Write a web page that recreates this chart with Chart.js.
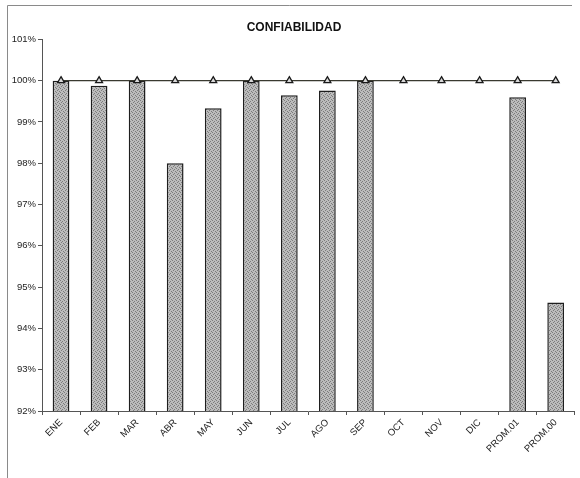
<!DOCTYPE html>
<html>
<head>
<meta charset="utf-8">
<script src="https://cdn.jsdelivr.net/npm/chart.js@4.4.1/dist/chart.umd.min.js"></script>
<style>
  html, body { margin: 0; padding: 0; background: #fff; }
  #wrap { width: 580px; height: 478px; position: relative; }
</style>
</head>
<body>
<div id="wrap"><canvas id="chart_conf"></canvas></div>
<script>
const categories = ['ENE', 'FEB', 'MAR', 'ABR', 'MAY', 'JUN', 'JUL', 'AGO', 'SEP', 'OCT', 'NOV', 'DIC', 'PROM.01', 'PROM.00'];
const confiabilidad = [100, 99.88, 100, 98.0, 99.33, 100, 99.65, 99.76, 100, null, null, null, 99.6, 94.63];
const meta = [100, 100, 100, 100, 100, 100, 100, 100, 100, 100, 100, 100, 100, 100];
const yTicks = [92, 93, 94, 95, 96, 97, 98, 99, 100, 101];

// grey stippled fill like the scanned bars
function hatchPattern() {
    const c = document.createElement('canvas');
    c.width = 4;
    c.height = 4;
    const g = c.getContext('2d');
    g.fillStyle = '#bcbcbc';
    g.fillRect(0, 0, 4, 4);
    g.fillStyle = '#7c7c7c';
    g.fillRect(0, 0, 1, 1);
    g.fillRect(2, 1, 1, 1);
    g.fillRect(1, 2, 1, 1);
    g.fillRect(3, 3, 1, 1);
    return g.createPattern(c, 'repeat');
}

const framePlugin = {
    id: 'frame',
    beforeDraw(chart) {
        const ctx = chart.ctx;
        ctx.save();
        ctx.strokeStyle = '#8a8a8a';
        ctx.lineWidth = 1;
        ctx.beginPath();
        ctx.moveTo(7.5, 478);
        ctx.lineTo(7.5, 5.5);
        ctx.lineTo(572, 5.5);
        ctx.stroke();
        ctx.restore();
    }
};

Chart.defaults.font.family = '"Liberation Sans", Arial, sans-serif';
Chart.defaults.color = '#222';

new Chart(document.getElementById('chart_conf'), {
    type: 'bar',
    data: {
        labels: categories,
        datasets: [{
            type: 'line',
            label: 'Meta',
            data: meta,
            borderColor: '#3a3a30',
            borderWidth: 1.2,
            pointStyle: 'triangle',
            pointRadius: 4,
            pointBackgroundColor: '#d8d8d8',
            pointBorderColor: '#1a1a1a',
            pointBorderWidth: 1.3,
            order: 0
        }, {
            label: 'Confiabilidad',
            data: confiabilidad,
            backgroundColor: hatchPattern(),
            borderColor: '#1e1e1e',
            borderWidth: 1.5,
            borderSkipped: false,
            barPercentage: 0.44,
            categoryPercentage: 1,
            order: 1
        }]
    },
    options: {
        responsive: true,
        maintainAspectRatio: false,
        animation: false,
        layout: { padding: { left: 10, right: 2, top: 0, bottom: 0 } },
        plugins: {
            legend: { display: false },
            tooltip: { enabled: false },
            title: {
                display: true,
                text: 'CONFIABILIDAD',
                font: { size: 12, weight: 'bold' },
                color: '#111',
                padding: { top: 20, bottom: 5 }
            }
        },
        scales: {
            x: {
                grid: { display: true, drawOnChartArea: false, drawTicks: true, tickLength: 4, color: '#555', offset: true },
                border: { display: true, color: '#555' },
                ticks: { font: { size: 9.5 }, maxRotation: 45, minRotation: 45, autoSkip: false, padding: 2 },
                afterFit: s => { s.height = 67; }
            },
            y: {
                min: 92,
                max: 101,
                grid: { display: true, drawOnChartArea: false, drawTicks: true, tickLength: 4, color: '#555' },
                border: { display: true, color: '#555' },
                afterBuildTicks: s => { s.ticks = yTicks.map(v => ({ value: v })); },
                ticks: { font: { size: 9.5 }, padding: 2, callback: v => v + '%' },
                afterFit: s => { s.width = 32; }
            }
        }
    },
    plugins: [framePlugin]
});
</script>
</body>
</html>
